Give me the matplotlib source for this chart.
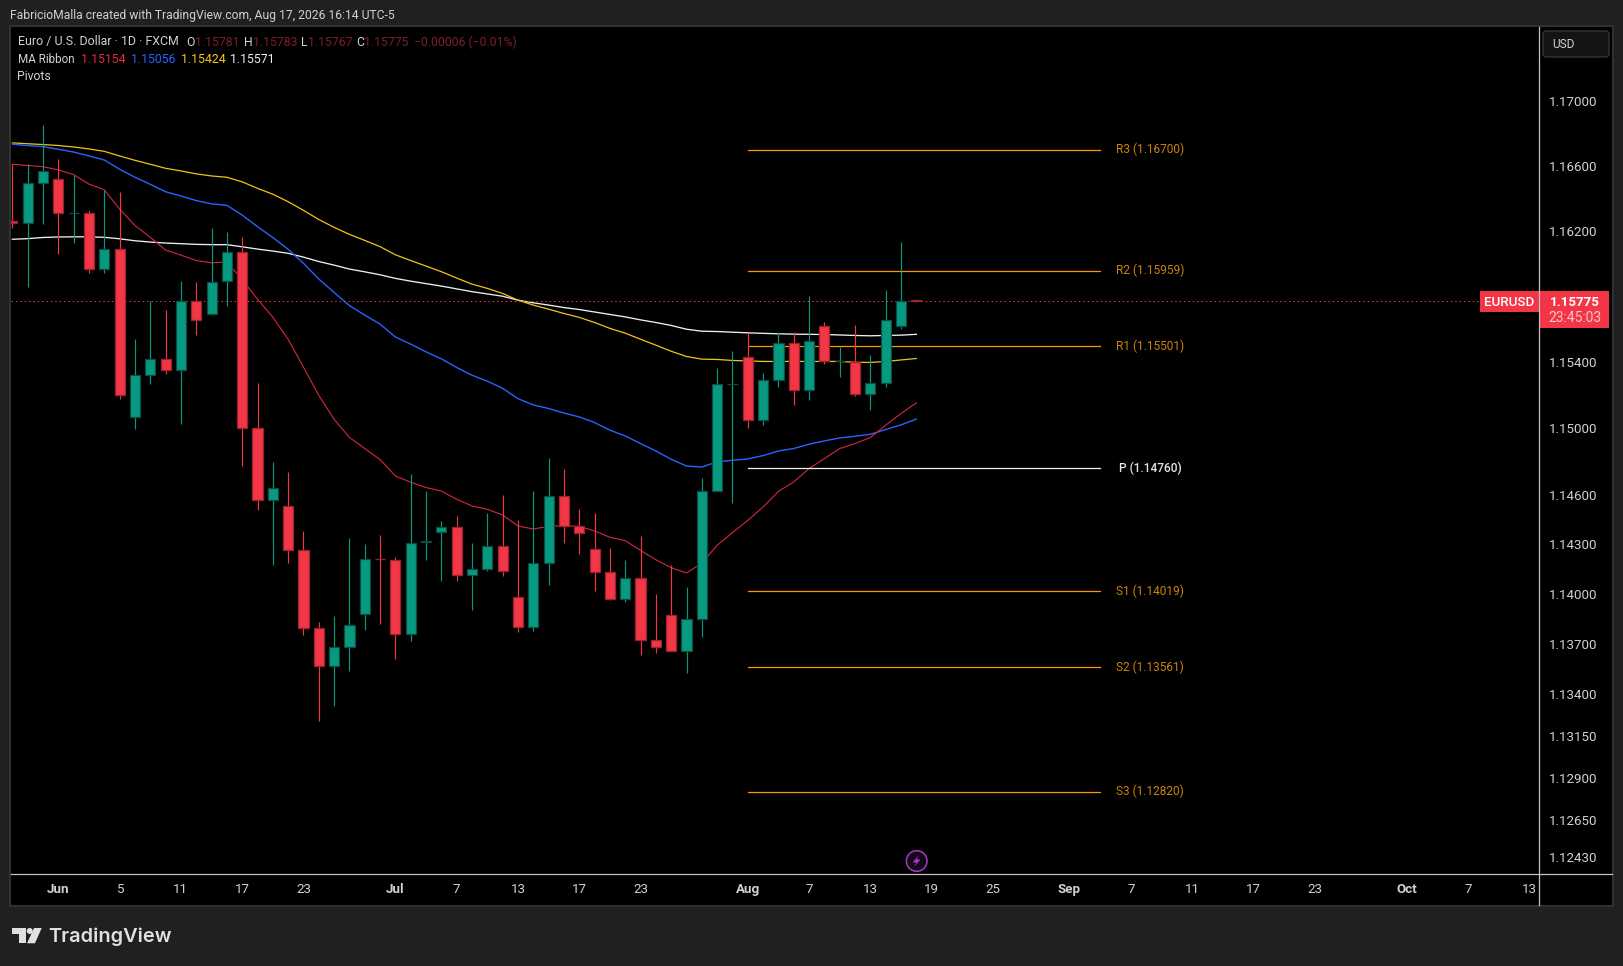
"""EURUSD daily candles with MA ribbon and pivots, TradingView dark look."""
import matplotlib
matplotlib.use('Agg')
import matplotlib.pyplot as plt
import numpy as np
from matplotlib.patches import Circle, FancyBboxPatch, Polygon, Rectangle
from matplotlib.ticker import NullLocator

plt.rcParams['font.family'] = ['Roboto', 'DejaVu Sans']

# bars from May 27 (index -3) to Aug 18 (index 56), Jun 1 is index 0
opens = [1.16264, 1.16248, 1.16497, 1.16518, 1.16309, 1.16310, 1.15967, 1.16093, 1.15071, 1.15326,
         1.15421, 1.15351, 1.15775, 1.15692, 1.15893, 1.16075, 1.15005, 1.14569, 1.14531, 1.14265,
         1.13795, 1.13571, 1.13685, 1.13882, 1.14213, 1.14205, 1.13763, 1.14314, 1.14376, 1.14404,
         1.14117, 1.14153, 1.14289, 1.13982, 1.13804, 1.14189, 1.14591, 1.14410, 1.14271, 1.14133,
         1.13972, 1.14096, 1.13724, 1.13874, 1.13661, 1.13852, 1.14621, 1.15267, 1.15436, 1.15053,
         1.15296, 1.15519, 1.15235, 1.15622, 1.15406, 1.15403, 1.15211, 1.15278, 1.15619, 1.15781]
highs = [1.16611, 1.16612, 1.16852, 1.16641, 1.16547, 1.16328, 1.16453, 1.16438, 1.15541, 1.15771,
         1.15722, 1.15893, 1.15889, 1.16218, 1.16193, 1.16163, 1.15278, 1.14799, 1.14734, 1.14382,
         1.13830, 1.13870, 1.14336, 1.14300, 1.14358, 1.14221, 1.14721, 1.14619, 1.14443, 1.14473,
         1.14310, 1.14487, 1.14600, 1.14449, 1.14619, 1.14819, 1.14757, 1.14515, 1.14491, 1.14280,
         1.14207, 1.14352, 1.14002, 1.14175, 1.14045, 1.14702, 1.15365, 1.15468, 1.15582, 1.15333,
         1.15588, 1.15588, 1.15802, 1.15649, 1.15495, 1.15625, 1.15448, 1.15841, 1.16132, 1.15783]
lows = [1.16221, 1.15860, 1.16246, 1.16062, 1.16130, 1.15946, 1.15946, 1.15178, 1.14996, 1.15269,
        1.15330, 1.15027, 1.15568, 1.15692, 1.15744, 1.14773, 1.14507, 1.14175, 1.14187, 1.13754,
        1.13240, 1.13329, 1.13538, 1.13784, 1.13820, 1.13610, 1.13718, 1.14205, 1.14079, 1.14079,
        1.13904, 1.14139, 1.14109, 1.13772, 1.13780, 1.14054, 1.14308, 1.14241, 1.14018, 1.13964,
        1.13952, 1.13634, 1.13646, 1.13661, 1.13527, 1.13742, 1.14621, 1.14547, 1.15002, 1.15021,
        1.15251, 1.15142, 1.15172, 1.15391, 1.15312, 1.15197, 1.15111, 1.15251, 1.15606, 1.15767]
closes = [1.16248, 1.16497, 1.16571, 1.16310, 1.16311, 1.15967, 1.16093, 1.15205, 1.15324, 1.15421,
          1.15351, 1.15775, 1.15661, 1.15891, 1.16075, 1.15005, 1.14569, 1.14639, 1.14268, 1.13798,
          1.13571, 1.13682, 1.13814, 1.14211, 1.14209, 1.13763, 1.14308, 1.14318, 1.14404, 1.14117,
          1.14151, 1.14289, 1.14141, 1.13804, 1.14187, 1.14591, 1.14412, 1.14370, 1.14135, 1.13970,
          1.14096, 1.13727, 1.13685, 1.13661, 1.13850, 1.14621, 1.15266, 1.15271, 1.15053, 1.15296,
          1.15519, 1.15235, 1.15531, 1.15406, 1.15410, 1.15211, 1.15275, 1.15659, 1.15775, 1.15775]

ma_red = [1.16611, 1.16603, 1.16596, 1.16576, 1.16547, 1.16489, 1.16454, 1.16336, 1.16236, 1.16163,
          1.16085, 1.16054, 1.16021, 1.16007, 1.16012, 1.15904, 1.15785, 1.15675, 1.15541, 1.15371,
          1.15200, 1.15055, 1.14945, 1.14878, 1.14811, 1.14712, 1.14674, 1.14642, 1.14621, 1.14571,
          1.14531, 1.14511, 1.14476, 1.14410, 1.14392, 1.14408, 1.14412, 1.14408, 1.14380, 1.14342,
          1.14322, 1.14263, 1.14207, 1.14159, 1.14127, 1.14187, 1.14294, 1.14370, 1.14444, 1.14525,
          1.14619, 1.14676, 1.14757, 1.14817, 1.14878, 1.14908, 1.14944, 1.15019, 1.15090, 1.15154]
ma_blue = [1.16734, 1.16726, 1.16719, 1.16703, 1.16686, 1.16662, 1.16637, 1.16580, 1.16531, 1.16488,
           1.16442, 1.16416, 1.16388, 1.16368, 1.16359, 1.16299, 1.16228, 1.16162, 1.16089, 1.16004,
           1.15908, 1.15826, 1.15746, 1.15688, 1.15633, 1.15555, 1.15511, 1.15464, 1.15422, 1.15369,
           1.15322, 1.15286, 1.15243, 1.15180, 1.15142, 1.15120, 1.15093, 1.15069, 1.15035, 1.14989,
           1.14954, 1.14908, 1.14863, 1.14813, 1.14772, 1.14766, 1.14797, 1.14807, 1.14815, 1.14835,
           1.14863, 1.14878, 1.14904, 1.14924, 1.14942, 1.14952, 1.14964, 1.14993, 1.15021, 1.15056]
ma_yellow = [1.16742, 1.16737, 1.16732, 1.16726, 1.16717, 1.16705, 1.16690, 1.16662, 1.16635, 1.16611,
             1.16586, 1.16570, 1.16552, 1.16539, 1.16531, 1.16503, 1.16463, 1.16427, 1.16381, 1.16328,
             1.16272, 1.16224, 1.16181, 1.16144, 1.16106, 1.16056, 1.16021, 1.15987, 1.15953, 1.15914,
             1.15877, 1.15851, 1.15820, 1.15779, 1.15749, 1.15724, 1.15698, 1.15674, 1.15643, 1.15607,
             1.15578, 1.15541, 1.15505, 1.15468, 1.15436, 1.15420, 1.15418, 1.15412, 1.15409, 1.15406,
             1.15406, 1.15406, 1.15406, 1.15406, 1.15406, 1.15401, 1.15400, 1.15406, 1.15415, 1.15424]
ma_white = [1.16151, 1.16155, 1.16162, 1.16165, 1.16166, 1.16166, 1.16163, 1.16154, 1.16142, 1.16134,
            1.16128, 1.16124, 1.16120, 1.16118, 1.16118, 1.16105, 1.16091, 1.16079, 1.16065, 1.16042,
            1.16015, 1.15993, 1.15969, 1.15952, 1.15934, 1.15912, 1.15895, 1.15880, 1.15865, 1.15848,
            1.15831, 1.15817, 1.15803, 1.15779, 1.15763, 1.15749, 1.15734, 1.15722, 1.15707, 1.15692,
            1.15677, 1.15659, 1.15643, 1.15625, 1.15602, 1.15590, 1.15588, 1.15584, 1.15580, 1.15577,
            1.15574, 1.15572, 1.15571, 1.15570, 1.15567, 1.15564, 1.15562, 1.15564, 1.15566, 1.15571]

pivot_names = ['R3', 'R2', 'R1', 'P', 'S1', 'S2', 'S3']
pivot_values = [1.16700, 1.15959, 1.15501, 1.14760, 1.14019, 1.13561, 1.12820]
pivot_start = 45
pivot_end = 68

price_ticks = [1.17000, 1.16600, 1.16200, 1.15400, 1.15000, 1.14600, 1.14300, 1.14000,
               1.13700, 1.13400, 1.13150, 1.12900, 1.12650, 1.12430]
date_ticks = [0, 4, 8, 12, 16, 22, 26, 30, 34, 38, 45, 49, 53, 57, 61, 66, 70, 74, 78, 82, 88, 92, 96]
date_labels = ['Jun', '5', '11', '17', '23', 'Jul', '7', '13', '17', '23', 'Aug', '7', '13', '19',
               '25', 'Sep', '7', '11', '17', '23', 'Oct', '7', '13']
month_labels = ['Jun', 'Jul', 'Aug', 'Sep', 'Oct']

last_price = 1.15775

GREEN = '#089981'
GREEN_EDGE = '#0b4f44'
RED = '#f23645'
RED_EDGE = '#9a2231'
ORANGE = '#ff9800'
TEXT = '#d1d1d1'
W, H = 1623, 966
PANE = (11, 27, 1539, 874)  # left, top, right, bottom in pixels


def pixel_axes(zorder):
    # full-figure axes in image pixels, for the TradingView frame around the chart
    a = fig.add_axes([0, 0, 1, 1], zorder=zorder)
    a.set_xlim(0, W)
    a.set_ylim(H, 0)
    a.axis('off')
    return a


fig = plt.figure(figsize=(W / 100, H / 100), dpi=100, facecolor='#202020')
under = pixel_axes(0)
under.add_patch(Rectangle((9.5, 25.5), 1603, 880, facecolor='black', edgecolor='#303030', lw=1.5))

ax = fig.add_axes([PANE[0] / W, 1 - PANE[3] / H, (PANE[2] - PANE[0]) / W, (PANE[3] - PANE[1]) / H], zorder=1)
ax.set_facecolor('black')
for spine in ax.spines.values():
    spine.set_visible(False)

bars = np.arange(-3, 57)
o, h, l, c = map(np.array, (opens, highs, lows, closes))
up = c >= o
colors = np.where(up, GREEN, RED)
edges = np.where(up, GREEN_EDGE, RED_EDGE)

for values, color, width in [(ma_white, '#eeeeee', 0.95), (ma_yellow, '#f2c416', 0.9),
                             (ma_blue, '#2962ff', 1.0), (ma_red, '#d9263c', 0.8)]:
    ax.plot(bars, values, color=color, lw=width, zorder=2)

ax.axhline(last_price, color=RED, lw=0.75, ls=(0, (1.4, 2.8)), zorder=2)

for name, value in zip(pivot_names, pivot_values):
    line_color = '#f0f0f0' if name == 'P' else ORANGE
    label_color = '#e6e6e6' if name == 'P' else '#cc820c'
    ax.plot([pivot_start, pivot_end], [value, value], color=line_color, lw=0.9, zorder=2.5)
    ax.text(71.26, value, f'{name} ({value:.5f})', color=label_color, fontsize=8.6,
            ha='center', va='center', fontweight='medium' if name == 'P' else 'normal')

ax.vlines(bars, l, h, colors=colors, lw=0.85, zorder=3)
ax.bar(bars, np.abs(c - o), bottom=np.minimum(o, c), width=0.66, color=colors,
       edgecolor=edges, linewidth=0.9, zorder=4)

ax.set_yscale('log')
ax.set_xlim(-3.09, 96.64)
ax.set_ylim(1.12332, 1.17457)
ax.yaxis.tick_right()
ax.set_yticks(price_ticks, [f'{v:.5f}' for v in price_ticks])
ax.yaxis.set_minor_locator(NullLocator())
ax.set_xticks(date_ticks, date_labels)
ax.tick_params(axis='y', length=0, pad=7, labelsize=9.6, labelcolor=TEXT)
ax.tick_params(axis='x', length=0, pad=6.5, labelsize=9.6, labelcolor=TEXT)
for label in ax.get_xticklabels():
    if label.get_text() in month_labels:
        label.set_fontweight('bold')

over = pixel_axes(2)
# axis rules
over.plot([1539.3, 1539.3], [27, 905], color='#c4c4c4', lw=0.9)
over.plot([11, 1612], [874.3, 874.3], color='#c4c4c4', lw=0.9)

# header and legend
over.text(10, 15, 'FabricioMalla created with TradingView.com, Aug 17, 2026 16:14 UTC-5',
          color=TEXT, fontsize=8.7, va='center')
over.text(17.5, 42, 'Euro / U.S. Dollar · 1D · FXCM', color=TEXT, fontsize=8.9, va='center')
for x, letter in [(186, 'O'), (244, 'H'), (301.5, 'L'), (356.5, 'C')]:
    over.text(x, 42, letter, color=TEXT, fontsize=8.8, va='center')
dim_red = '#7c1f29'
for x, value in [(195, opens[-1]), (252.5, highs[-1]), (308, lows[-1]), (364, closes[-1])]:
    over.text(x, 42, f'{value:.5f}', color=dim_red, fontsize=8.8, va='center')
over.text(414, 42, '−0.00006 (−0.01%)', color=dim_red, fontsize=8.8, va='center')
over.text(17.5, 59.5, 'MA Ribbon', color=TEXT, fontsize=8.4, va='center')
for x, value, color in [(81.5, ma_red[-1], '#e02a40'), (131, ma_blue[-1], '#2962ff'),
                        (180.5, ma_yellow[-1], '#f5c518'), (230, ma_white[-1], '#f0f0f0')]:
    over.text(x, 59.5, f'{value:.5f}', color=color, fontsize=8.8, va='center')
over.text(17.5, 76, 'Pivots', color=TEXT, fontsize=8.8, va='center')

# last price tags
over.add_patch(Rectangle((1480, 291), 59, 20.5, color=RED, lw=0))
over.add_patch(Rectangle((1540, 291), 69, 36.5, color=RED, lw=0))
over.text(1509.5, 302, 'EURUSD', color='white', fontsize=9.6, ha='center', va='center', fontweight='medium')
over.text(1574.5, 302.5, f'{last_price:.5f}', color='white', fontsize=9.6, ha='center', va='center', fontweight='bold')
over.text(1575, 318.5, '23:45:03', color='#f7c4ca', fontsize=10, ha='center', va='center')

# currency button
over.add_patch(FancyBboxPatch((1543, 31), 66, 26, boxstyle='round,pad=0,rounding_size=3',
                              facecolor='#141414', edgecolor='#3a3a3a', lw=0.9))
over.text(1552, 44.5, 'USD', color=TEXT, fontsize=8.6, va='center')

# purple flash marker
over.add_patch(Circle((916.7, 861), 10.3, facecolor='#16061a', edgecolor='#a53cc0', lw=1.1))
over.add_patch(Polygon([(919.5, 854.5), (912.5, 862.5), (916.5, 862.5), (913.5, 867.5),
                        (920.5, 859.5), (916.5, 859.5)], color='#a53cc0', lw=0))

# TradingView logo
logo = '#dfe0e0'
over.add_patch(Polygon([(12, 928), (26, 928), (26, 943.3), (19.3, 943.3), (19.3, 934), (12, 934)], color=logo, lw=0))
over.add_patch(Circle((29.7, 931), 3, color=logo, lw=0))
over.add_patch(Polygon([(34, 928), (41.7, 928), (35, 943.3), (27, 943.3)], color=logo, lw=0))
over.text(48.5, 936.5, 'TradingView', color=logo, fontsize=14.4, va='center', fontweight='semibold',
          family=['Inter', 'DejaVu Sans'])

fig.savefig('out.png', dpi=100, facecolor=fig.get_facecolor())
plt.close(fig)
